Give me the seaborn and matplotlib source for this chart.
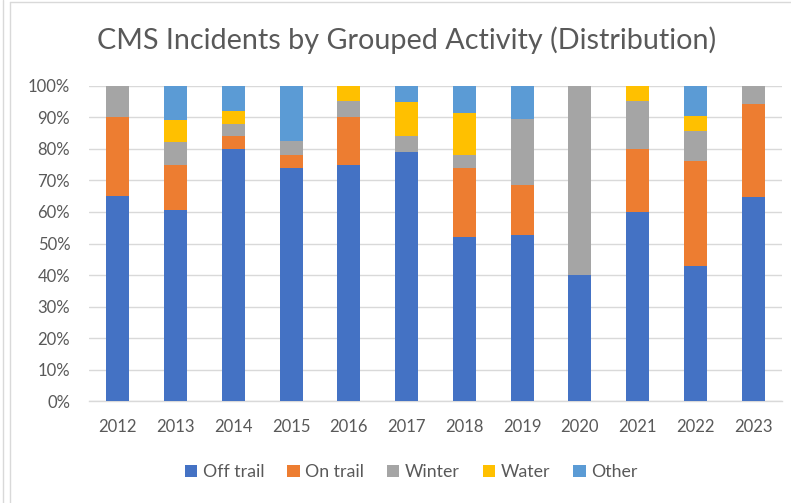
import matplotlib
matplotlib.use("Agg")
import matplotlib.pyplot as plt
from matplotlib.patches import Patch
from matplotlib.lines import Line2D
import numpy as np
import pandas as pd
import seaborn as sns

years = ["2012", "2013", "2014", "2015", "2016", "2017", "2018", "2019", "2020", "2021", "2022", "2023"]
off_trail = [65.0, 60.7, 80.0, 73.9, 75.0, 78.9, 52.2, 52.6, 40.0, 60.0, 42.9, 64.7]
on_trail = [25.0, 14.3, 4.0, 4.3, 15.0, 0.0, 21.7, 15.8, 0.0, 20.0, 33.3, 29.4]
winter = [10.0, 7.1, 4.0, 4.3, 5.0, 5.3, 4.3, 21.1, 60.0, 15.0, 9.5, 5.9]
water = [0.0, 7.1, 4.0, 0.0, 5.0, 10.5, 13.0, 0.0, 0.0, 5.0, 4.8, 0.0]
other = [0.0, 10.7, 8.0, 17.4, 0.0, 5.3, 8.7, 10.5, 0.0, 0.0, 9.5, 0.0]

series_names = ["Off trail", "On trail", "Winter", "Water", "Other"]
series_vals = [off_trail, on_trail, winter, water, other]
colors = ["#4472C4", "#ED7D31", "#A5A5A5", "#FFC000", "#5B9BD5"]

sns.set_theme(style="white")
plt.rcParams["font.family"] = ["Lato", "DejaVu Sans"]

fig = plt.figure(figsize=(7.91, 5.03), dpi=100)
ax = fig.add_axes([89 / 791, 1 - 401.3 / 503, (782 - 89) / 791, (401.3 - 85.7) / 503])

bottom = np.zeros(len(years))
for name, vals, col in zip(series_names, series_vals, colors):
    df = pd.DataFrame({"year": years, "pct": np.array(vals) / 100.0})
    sns.barplot(data=df, x="year", y="pct", color=col, width=0.4, bottom=bottom,
                ax=ax, saturation=1, edgecolor="none", linewidth=0, zorder=3)
    bottom = bottom + np.array(vals) / 100.0

ax.set_ylim(0, 1.0)
ax.set_xlim(-0.5, len(years) - 0.5)
ax.set_yticks(np.arange(0, 1.01, 0.1))
ax.set_yticklabels([f"{int(round(v * 100))}%" for v in np.arange(0, 1.01, 0.1)])
ax.yaxis.grid(True, color="#D9D9D9", linewidth=1.0, zorder=0)
ax.set_axisbelow(True)
for s in ["top", "right", "left"]:
    ax.spines[s].set_visible(False)
ax.spines["bottom"].set_color("#D9D9D9")
ax.spines["bottom"].set_linewidth(1.0)
ax.tick_params(axis="both", length=0, labelsize=12, colors="#595959")
ax.tick_params(axis="y", pad=13.5)
ax.tick_params(axis="x", pad=13)
ax.set_xlabel("")
ax.set_ylabel("")

fig.text(407 / 791, 1 - 40 / 503, "CMS Incidents by Grouped Activity (Distribution)",
         ha="center", va="center", fontsize=20.7, color="#595959")

handles = [Patch(facecolor=c, edgecolor="none") for c in colors]
fig.legend(handles, series_names, loc="center", bbox_to_anchor=(411 / 791, 1 - 472 / 503),
           ncol=5, frameon=False, fontsize=12.8, handlelength=0.7, handleheight=0.7,
           handletextpad=0.3, columnspacing=1.3, labelcolor="#595959")

# chart frame lines
fig.add_artist(Line2D([3 / 791, 3 / 791], [0, 1], color="#D9D9D9", lw=1.0, transform=fig.transFigure))
fig.add_artist(Line2D([10 / 791, 10 / 791], [0, 1 - 1.5 / 503], color="#D9D9D9", lw=1.0, transform=fig.transFigure))
fig.add_artist(Line2D([10 / 791, 1], [1 - 1.5 / 503, 1 - 1.5 / 503], color="#D9D9D9", lw=1.0, transform=fig.transFigure))

fig.savefig("out.png", dpi=100, facecolor="white")
